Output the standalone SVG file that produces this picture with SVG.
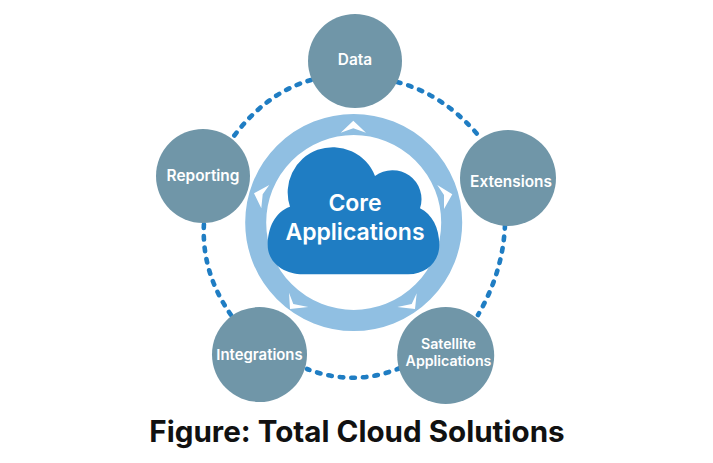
<svg xmlns="http://www.w3.org/2000/svg" width="713" height="463" viewBox="0 0 713 463">
<style>
.node{fill:#7096a8}
.conn{fill:none;stroke:#1f7dc3;stroke-width:4.6;stroke-dasharray:3.6 8;stroke-linecap:round}
.chev{fill:#fff}
text{font-family:"Inter","Liberation Sans",sans-serif;fill:#fff;text-anchor:middle;font-weight:600}
.lbl{font-size:15.4px}
.sm{font-size:14.2px}
.int{font-size:14.9px}
.core{font-size:23px}
.title{font-size:29.6px;font-weight:700;fill:#111}
</style>
<rect width="713" height="463" fill="#fff"/>
<g id="connectors">
<path class="conn" d="M311 80Q265 93 231 140"/>
<path class="conn" d="M397 82Q443 94 478 135"/>
<path class="conn" d="M505 225Q503 272 478 315"/>
<path class="conn" d="M400 368Q354 387 307 369"/>
<path class="conn" d="M231 315Q201 272 204 223"/>
</g>
<g id="ring">
<circle cx="353.7" cy="222.5" r="98" fill="none" stroke="#90bfe2" stroke-width="21"/>
<polygon class="chev" points="353.3,120.7 340.7,132.7 353.3,128.3 366,132.7"/>
<polygon class="chev" points="452.3,194.3 437.3,185 444,195 444,209"/>
<polygon class="chev" points="254,193.3 269.3,185 262.7,194.3 261.3,208.3"/>
<polygon class="chev" points="289,292.7 290,309 308.3,307 293.3,304"/>
<polygon class="chev" points="416.7,293.3 415,309 397.3,307 411.7,304"/>
</g>
<g id="core">
<path fill="#1f7dc3" d="M303.3 274.3L408.3 274.3C426 274.3 439.3 262 439.3 245C439.3 228 432 214 420 208.3A29 29 0 0 0 375 176A45.2 45.2 0 0 0 290 206.7C275 212 267.7 228 267.7 245C267.7 262 283 274.3 303.3 274.3Z"/>
<text class="core" x="355" y="211">Core</text>
<text class="core" x="355" y="240">Applications</text>
</g>
<g id="data"><circle class="node" cx="355" cy="61" r="47"/><text class="lbl" x="355" y="65">Data</text></g>
<g id="extensions"><circle class="node" cx="508" cy="178" r="48"/><text class="lbl" x="511" y="187">Extensions</text></g>
<g id="reporting"><circle class="node" cx="203" cy="176" r="47"/><text class="lbl" x="203" y="181">Reporting</text></g>
<g id="integrations"><circle class="node" cx="259.5" cy="354.5" r="47.5"/><text class="int" x="259.5" y="360">Integrations</text></g>
<g id="satellite"><circle class="node" cx="445.7" cy="355.5" r="48.5"/><text class="sm" x="448.5" y="349">Satellite</text><text class="sm" x="448.5" y="366">Applications</text></g>
<text class="title" x="357" y="442">Figure: Total Cloud Solutions</text>
</svg>
